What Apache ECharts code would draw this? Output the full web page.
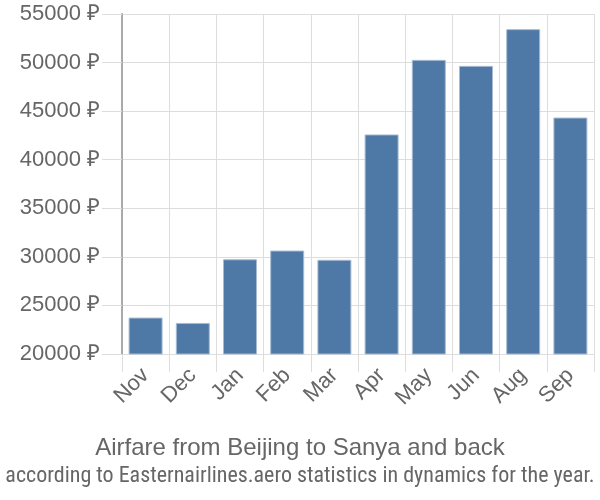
<!DOCTYPE html>
<html><head><meta charset="utf-8">
<script src="https://cdn.jsdelivr.net/npm/echarts@6/dist/echarts.min.js"></script>
<style>html,body{margin:0;padding:0;background:#fff}#c{width:600px;height:500px}</style>
</head><body><div id="c"></div>
<script>
const categories = ['Nov','Dec','Jan','Feb','Mar','Apr','May','Jun','Aug','Sep'];
const prices = [23750, 23200, 29750, 30650, 29700, 42600, 50280, 49660, 53440, 44340];
const yTicks = [20000, 25000, 30000, 35000, 40000, 45000, 50000, 55000];
const titleText = 'Airfare from Beijing to Sanya and back';
const subtitleText = 'according to Easternairlines.aero statistics in dynamics for the year.';

const chart = echarts.init(document.getElementById('c'), null, {renderer:'canvas'});
const font = 'Liberation Sans, Arial, sans-serif';
chart.setOption({
  animation:false,
  textStyle:{fontFamily:font},
  grid:{left:122, right:6, top:14, bottom:146, containLabel:false},
  title:[
    {text:titleText, left:'center', top:431, textStyle:{fontFamily:font, fontSize:24, fontWeight:'normal', color:'#666'}},
    {text:subtitleText, left:'center', top:460, textStyle:{fontFamily:'"Liberation Sans Narrow", "Roboto Condensed", Liberation Sans, sans-serif', fontSize:22, fontWeight:'normal', color:'#666'}}
  ],
  xAxis:{
    type:'category', data:categories, boundaryGap:true,
    axisLine:{show:true, lineStyle:{color:'#ddd', width:1}},
    axisTick:{show:true, length:18, interval:0, lineStyle:{color:'#ddd'}},
    splitLine:{show:true, interval:0, lineStyle:{color:'#ddd'}},
    axisLabel:{interval:0, rotate:45, fontSize:22, color:'#666', margin:18, fontFamily:font}
  },
  yAxis:{
    type:'value', min:yTicks[0], max:yTicks[yTicks.length-1], interval:5000,
    axisLine:{show:true, lineStyle:{color:'#aaa', width:2}},
    axisTick:{show:true, length:20, lineStyle:{color:'#ddd'}},
    splitLine:{show:true, lineStyle:{color:'#ddd'}},
    axisLabel:{fontSize:22, color:'#666', margin:22, fontFamily:font, formatter: v => v + ' ₽'}
  },
  series:[{
    type:'bar', data:prices, barCategoryGap:'28%',
    itemStyle:{color:'#4e78a6', borderColor:'#a8bbd2', borderWidth:1}
  }]
});
</script></body></html>
